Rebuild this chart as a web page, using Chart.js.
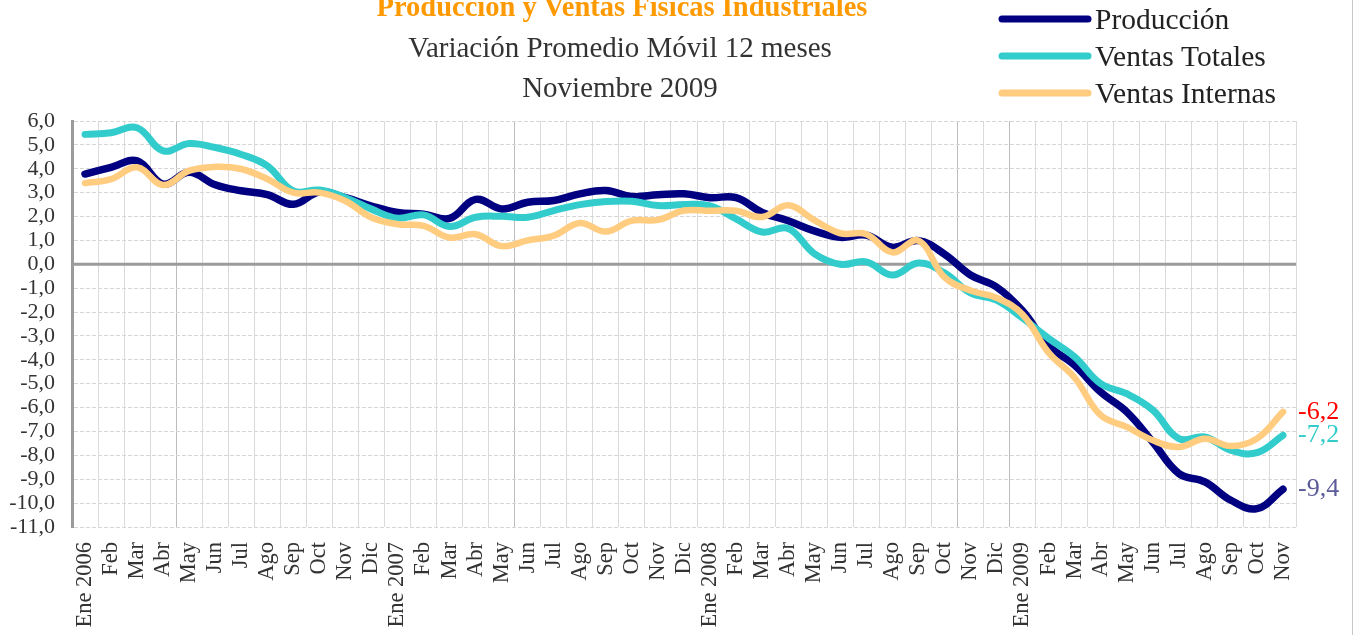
<!DOCTYPE html>
<html>
<head>
<meta charset="utf-8">
<script src="https://cdn.jsdelivr.net/npm/chart.js@4.4.1/dist/chart.umd.min.js"></script>
<style>
  html, body { margin: 0; padding: 0; background: #fff; }
  #contenedor { position: relative; width: 1353px; height: 635px; }
</style>
</head>
<body>
<div id="contenedor"><canvas id="grafico"></canvas></div>
<script>
// etiquetas del eje x: enero 2006 - noviembre 2009
var meses = [
    'Ene 2006', 'Feb', 'Mar', 'Abr', 'May', 'Jun', 'Jul', 'Ago', 'Sep', 'Oct', 'Nov', 'Dic',
    'Ene 2007', 'Feb', 'Mar', 'Abr', 'May', 'Jun', 'Jul', 'Ago', 'Sep', 'Oct', 'Nov', 'Dic',
    'Ene 2008', 'Feb', 'Mar', 'Abr', 'May', 'Jun', 'Jul', 'Ago', 'Sep', 'Oct', 'Nov', 'Dic',
    'Ene 2009', 'Feb', 'Mar', 'Abr', 'May', 'Jun', 'Jul', 'Ago', 'Sep', 'Oct', 'Nov'
];

// variacion promedio movil 12 meses (%)
var produccion = [
    3.78, 4.06, 4.33, 3.36, 3.85, 3.33, 3.08, 2.92, 2.51, 3.03, 2.79, 2.44,
    2.17, 2.10, 1.92, 2.72, 2.32, 2.60, 2.67, 2.95, 3.09, 2.84, 2.91, 2.95,
    2.79, 2.79, 2.17, 1.82, 1.40, 1.13, 1.22, 0.71, 0.99, 0.43, -0.45, -0.95,
    -1.95, -3.40, -4.23, -5.35, -6.18, -7.44, -8.76, -9.11, -9.88, -10.23, -9.42
];
var ventasTotales = [
    5.44, 5.51, 5.72, 4.75, 5.06, 4.89, 4.60, 4.12, 3.07, 3.11, 2.79, 2.31,
    1.93, 2.07, 1.58, 1.97, 2.01, 1.97, 2.25, 2.50, 2.63, 2.64, 2.46, 2.50,
    2.45, 1.90, 1.35, 1.50, 0.45, 0.00, 0.10, -0.45, 0.05, -0.36, -1.20, -1.50,
    -2.25, -3.10, -3.88, -5.00, -5.42, -6.10, -7.30, -7.23, -7.79, -7.89, -7.16
];
var ventasInternas = [
    3.40, 3.57, 4.06, 3.32, 3.92, 4.08, 3.99, 3.57, 3.00, 3.00, 2.65, 1.96,
    1.68, 1.61, 1.12, 1.26, 0.76, 1.00, 1.20, 1.73, 1.37, 1.83, 1.86, 2.25,
    2.24, 2.24, 1.98, 2.47, 1.85, 1.30, 1.26, 0.50, 0.99, -0.54, -1.10, -1.40,
    -2.10, -3.70, -4.75, -6.32, -6.81, -7.37, -7.65, -7.30, -7.61, -7.30, -6.18
];

var titulo = 'Producción y Ventas Físicas Industriales';
var subtitulos = ['Variación Promedio Móvil 12 meses', 'Noviembre 2009'];

var fuente = "'Liberation Serif', 'Times New Roman', serif";

function coma(v) {
    return v.toFixed(1).replace('.', ',');
}

// titulos, leyenda, linea del cero y valores finales
var decoraciones = {
    id: 'decoraciones',
    beforeDatasetsDraw: function(chart) {
        var ctx = chart.ctx;
        var area = chart.chartArea;
        var y0 = chart.scales.y.getPixelForValue(0);
        ctx.save();
        ctx.strokeStyle = '#9b9b9b';
        ctx.lineWidth = 3;
        ctx.beginPath();
        ctx.moveTo(area.left, y0);
        ctx.lineTo(area.right, y0);
        ctx.stroke();
        ctx.restore();
    },
    afterDraw: function(chart) {
        var ctx = chart.ctx;
        ctx.save();

        // titulo
        ctx.textAlign = 'center';
        ctx.textBaseline = 'alphabetic';
        ctx.fillStyle = '#FF9900';
        ctx.font = 'bold 28.5px ' + fuente;
        ctx.fillText(titulo, 622, 16);
        ctx.fillStyle = '#333333';
        ctx.font = '29px ' + fuente;
        ctx.fillText(subtitulos[0], 620, 57);
        ctx.fillText(subtitulos[1], 620, 97);

        // leyenda
        ctx.textAlign = 'left';
        ctx.font = '29.5px ' + fuente;
        chart.data.datasets.forEach(function(ds, i) {
            var y = 19 + i * 37;
            ctx.strokeStyle = ds.borderColor;
            ctx.lineWidth = 7;
            ctx.lineCap = 'round';
            ctx.beginPath();
            ctx.moveTo(1002, y);
            ctx.lineTo(1088, y);
            ctx.stroke();
            ctx.fillStyle = '#222222';
            ctx.fillText(ds.label, 1095, y + 10);
        });

        // valor del ultimo mes
        ctx.font = '26px ' + fuente;
        ctx.textBaseline = 'middle';
        chart.data.datasets.forEach(function(ds, i) {
            var meta = chart.getDatasetMeta(i);
            var p = meta.data[meta.data.length - 1];
            ctx.fillStyle = ds.colorEtiqueta;
            ctx.fillText(coma(ds.data[ds.data.length - 1]), 1298, p.y);
        });

        // borde derecho del grafico
        ctx.strokeStyle = '#c8c8c8';
        ctx.lineWidth = 1;
        ctx.beginPath();
        ctx.moveTo(1352.5, 0);
        ctx.lineTo(1352.5, 635);
        ctx.stroke();
        ctx.restore();
    }
};

var ctx = document.getElementById('grafico').getContext('2d');

var grafico = new Chart(ctx, {
    type: 'line',
    data: {
        labels: meses,
        datasets: [
            {
                label: 'Producción',
                data: produccion,
                borderColor: '#000080',
                colorEtiqueta: '#5B5B99',
                borderWidth: 7.5,
                order: 3
            },
            {
                label: 'Ventas Totales',
                data: ventasTotales,
                borderColor: '#33CCCC',
                colorEtiqueta: '#33CCCC',
                borderWidth: 7,
                order: 2
            },
            {
                label: 'Ventas Internas',
                data: ventasInternas,
                borderColor: '#FFCC80',
                colorEtiqueta: '#FF0000',
                borderWidth: 6.5,
                order: 1
            }
        ]
    },
    options: {
        responsive: true,
        maintainAspectRatio: false,
        animation: false,
        layout: {
            padding: { top: 121, right: 57, bottom: 0, left: 0 }
        },
        elements: {
            point: { radius: 0, hoverRadius: 0 },
            line: { tension: 0.4, borderCapStyle: 'round', borderJoinStyle: 'round', fill: false }
        },
        plugins: {
            legend: { display: false },
            title: { display: false },
            tooltip: { enabled: false }
        },
        scales: {
            x: {
                offset: true,
                grid: {
                    offset: true,
                    drawTicks: false,
                    lineWidth: 1,
                    color: function(c) {
                        return [4, 17, 34, 36].indexOf(c.index) >= 0 ? '#bdbdbd' : '#dadada';
                    }
                },
                border: { display: false },
                ticks: {
                    autoSkip: false,
                    maxRotation: 90,
                    minRotation: 90,
                    padding: 15,
                    color: '#333333',
                    font: { family: fuente, size: 22.5 }
                },
                afterFit: function(scale) {
                    scale.height = 108;
                }
            },
            y: {
                min: -11,
                max: 6,
                ticks: {
                    stepSize: 1,
                    autoSkip: false,
                    padding: 17,
                    color: '#333333',
                    font: { family: fuente, size: 22 },
                    callback: function(v) { return coma(v); }
                },
                grid: {
                    drawTicks: false,
                    color: '#d6d6d6',
                    lineWidth: 1
                },
                border: {
                    display: true,
                    color: '#9b9b9b',
                    width: 3,
                    dash: [4, 2]
                },
                afterFit: function(scale) {
                    scale.width = 72;
                }
            }
        }
    },
    plugins: [decoraciones]
});
</script>
</body>
</html>
